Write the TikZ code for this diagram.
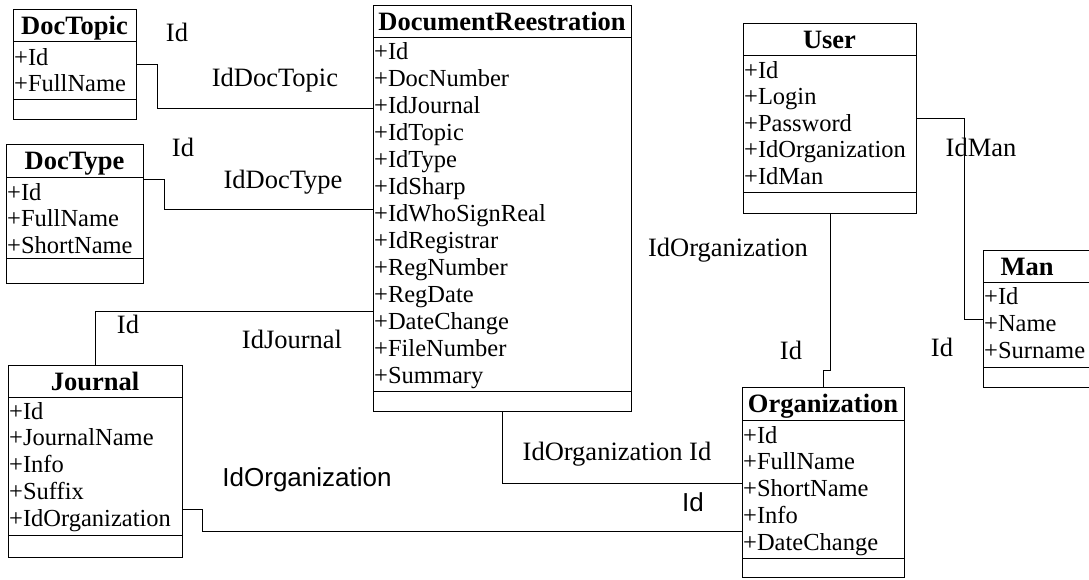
\documentclass[tikz,border=0pt]{standalone}
\usepackage{fontspec}
\setmainfont{Liberation Serif}
\newfontfamily\sansf{Liberation Sans}
\begin{document}
\begin{tikzpicture}[x=1pt,y=-1pt,
  cls/.style={draw, line width=1pt, inner sep=0, anchor=north west},
  hdr/.style={font=\fontsize{26.5}{28}\selectfont\bfseries, anchor=base, inner sep=0},
  attr/.style={font=\fontsize{24.5}{27}\selectfont, anchor=base west, inner sep=0},
  lbl/.style={font=\fontsize{26.5}{28}\selectfont, anchor=base, inner sep=0},
  slbl/.style={font=\fontsize{26}{28}\selectfont\sansf, anchor=base, inner sep=0},
  conn/.style={line width=0.9pt},
  sepline/.style={line width=1pt}]
\useasboundingbox (0,0) rectangle (1089,579);
\clip (0,0) rectangle (1089,579);
\fill[white] (0,0) rectangle (1089,579);

% DocTopic
\node[cls, minimum width=123pt, minimum height=110pt] (dt) at (13,9) {};
\node[hdr] (dth) at (74.5,34) {DocTopic};
\draw[sepline] (13,41) -- (136,41) (13,99) -- (136,99);
\foreach \t [count=\i] in {+Id,+FullName}
  \node[attr] (dt\i) at (14,{39+26*\i}) {\t};

% DocType
\node[cls, minimum width=137pt, minimum height=139pt] (dy) at (6,144) {};
\node[hdr] (dyh) at (74.5,169) {DocType};
\draw[sepline] (6,177) -- (143,177) (6,258) -- (143,258);
\foreach \t [count=\i] in {+Id,+FullName,+ShortName}
  \node[attr] (dy\i) at (7,{173.5+26.5*\i}) {\t};

% DocumentReestration
\node[cls, minimum width=258pt, minimum height=406pt] (dr) at (373,5) {};
\node[hdr] (drh) at (502,30) {DocumentReestration};
\draw[sepline] (373,37) -- (631,37) (373,391) -- (631,391);
\foreach \t [count=\i] in {+Id,+DocNumber,+IdJournal,+IdTopic,+IdType,+IdSharp,+IdWhoSignReal,+IdRegistrar,+RegNumber,+RegDate,+DateChange,+FileNumber,+Summary}
  \node[attr] (dr\i) at (374,{32+27*\i}) {\t};

% Journal
\node[cls, minimum width=174pt, minimum height=192pt] (jr) at (8,365) {};
\node[hdr] (jrh) at (95,390) {Journal};
\draw[sepline] (8,397) -- (182,397) (8,535) -- (182,535);
\foreach \t [count=\i] in {+Id,+JournalName,+Info,+Suffix,+IdOrganization}
  \node[attr] (jr\i) at (9,{392.25+26.75*\i}) {\t};

% User
\node[cls, minimum width=173pt, minimum height=190pt] (us) at (743,23) {};
\node[hdr] (ush) at (829.5,48) {User};
\draw[sepline] (743,55) -- (916,55) (743,192) -- (916,192);
\foreach \t [count=\i] in {+Id,+Login,+Password,+IdOrganization,+IdMan}
  \node[attr] (us\i) at (744,{51.5+26.5*\i}) {\t};

% Man
\node[cls, minimum width=112pt, minimum height=137pt] (man) at (983,250) {};
\node[hdr] (manh) at (1027,275) {Man};
\draw[sepline] (983,282) -- (1095,282) (983,367) -- (1095,367);
\foreach \t [count=\i] in {+Id,+Name,+Surname}
  \node[attr] (man\i) at (984,{277+27*\i}) {\t};

% Organization
\node[cls, minimum width=162pt, minimum height=190pt] (org) at (742,387) {};
\node[hdr] (orgh) at (823,412) {Organization};
\draw[sepline] (742,420) -- (904,420) (742,558) -- (904,558);
\foreach \t [count=\i] in {+Id,+FullName,+ShortName,+Info,+DateChange}
  \node[attr] (org\i) at (743,{416.25+26.75*\i}) {\t};

% connectors
\draw[conn] ([yshift=-55pt]dt.north east) -- ++(20,0) |- ([yshift=-103pt]dr.north west);
\draw[conn] ([yshift=-35pt]dy.north east) -- ++(20,0) |- ([yshift=-204pt]dr.north west);
\draw[conn] (jr.north) |- ([yshift=-306pt]dr.north west);
\draw[conn] (dr.south) |- ([yshift=-96pt]org.north west);
\draw[conn] ([yshift=-144pt]jr.north east) -- ++(19,0) |- ([yshift=-144pt]org.north west);
\draw[conn] (us.south) -- ++(0,156) -| (org.north);
\draw[conn] ([yshift=-95pt]us.north east) -- ++(47,0) |- ([yshift=-69pt]man.north west);

% labels
\node[lbl] (l1) at (177,41) {Id};
\node[lbl] (l2) at (275,86) {IdDocTopic};
\node[lbl] (l3) at (183,156) {Id};
\node[lbl] (l4) at (283,188) {IdDocType};
\node[lbl] (l5) at (128,333) {Id};
\node[lbl] (l6) at (292,348) {IdJournal};
\node[lbl] (l7) at (617,460) {IdOrganization Id};
\node[lbl] (l8) at (728,256) {IdOrganization};
\node[lbl] (l9) at (791,359) {Id};
\node[lbl] (l10) at (981,156) {IdMan};
\node[lbl] (l11) at (942,356) {Id};
\node[slbl] (l12) at (307,486) {IdOrganization};
\node[slbl] (l13) at (693,511) {Id};
\end{tikzpicture}
\end{document}
